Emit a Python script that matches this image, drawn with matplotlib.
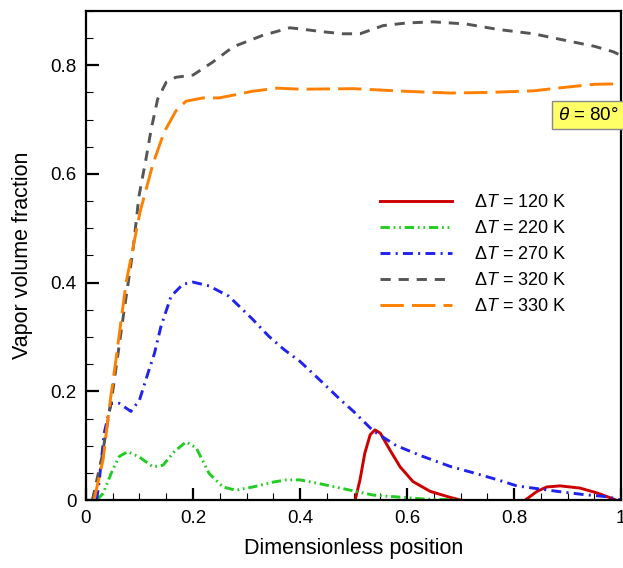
import numpy as np
import matplotlib
matplotlib.use("Agg")
import matplotlib.pyplot as plt
from matplotlib.ticker import MultipleLocator

plt.rcParams['font.family'] = ['Liberation Sans', 'DejaVu Sans']
plt.rcParams['mathtext.fontset'] = 'custom'
plt.rcParams['mathtext.rm'] = 'Liberation Sans'
plt.rcParams['mathtext.it'] = 'Liberation Sans:italic'

# dT = 120 K (zero stretches left out, they sit on the axis)
x_120 = [0.503, 0.512, 0.521, 0.531, 0.540, 0.550, 0.568, 0.587, 0.611, 0.643, 0.680, 0.700,
         np.nan,
         0.821, 0.843, 0.861, 0.886, 0.923, 0.955, 0.980, 0.990]
y_120 = [0.0, 0.037, 0.086, 0.120, 0.129, 0.123, 0.092, 0.061, 0.034, 0.016, 0.005, 0.0,
         np.nan,
         0.0, 0.016, 0.024, 0.026, 0.022, 0.013, 0.004, 0.0]

# dT = 220 K
x_220 = [0.020, 0.032, 0.047, 0.062, 0.078, 0.100, 0.125, 0.144, 0.165, 0.187, 0.206, 0.230,
         0.256, 0.280, 0.312, 0.350, 0.374, 0.400, 0.437, 0.475, 0.537, 0.630, 0.700]
y_220 = [0.0, 0.012, 0.049, 0.080, 0.089, 0.079, 0.061, 0.064, 0.089, 0.107, 0.096, 0.049,
         0.024, 0.018, 0.024, 0.033, 0.037, 0.037, 0.030, 0.022, 0.009, 0.002, 0.0]

# dT = 270 K
x_270 = [0.020, 0.025, 0.034, 0.047, 0.062, 0.084, 0.100, 0.116, 0.128, 0.140, 0.159, 0.181,
         0.200, 0.230, 0.267, 0.312, 0.342, 0.370, 0.400, 0.440, 0.475, 0.500, 0.537, 0.580,
         0.630, 0.680, 0.724, 0.770, 0.805, 0.850, 0.880, 0.930, 0.974, 1.000]
y_270 = [0.0, 0.037, 0.123, 0.178, 0.178, 0.163, 0.184, 0.234, 0.270, 0.319, 0.375, 0.397,
         0.401, 0.394, 0.375, 0.332, 0.301, 0.277, 0.255, 0.218, 0.185, 0.163, 0.127, 0.100,
         0.080, 0.062, 0.050, 0.037, 0.026, 0.020, 0.016, 0.010, 0.006, 0.0]

# dT = 320 K
x_320 = [0.012, 0.030, 0.050, 0.070, 0.088, 0.099, 0.112, 0.122, 0.134, 0.150, 0.168, 0.200,
         0.237, 0.275, 0.330, 0.381, 0.400, 0.440, 0.480, 0.512, 0.555, 0.600, 0.649, 0.710,
         0.770, 0.836, 0.900, 0.950, 0.985, 1.000]
y_320 = [0.0, 0.080, 0.200, 0.340, 0.461, 0.559, 0.627, 0.683, 0.738, 0.769, 0.778, 0.782,
         0.806, 0.834, 0.855, 0.869, 0.867, 0.862, 0.858, 0.858, 0.873, 0.878, 0.880, 0.876,
         0.866, 0.858, 0.845, 0.835, 0.825, 0.818]

# dT = 330 K
x_330 = [0.015, 0.032, 0.043, 0.056, 0.075, 0.101, 0.125, 0.146, 0.168, 0.187, 0.219, 0.249,
         0.275, 0.310, 0.357, 0.400, 0.500, 0.600, 0.680, 0.750, 0.836, 0.900, 0.950, 1.000]
y_330 = [0.0, 0.074, 0.166, 0.258, 0.400, 0.530, 0.618, 0.677, 0.716, 0.734, 0.740, 0.740,
         0.745, 0.752, 0.758, 0.756, 0.757, 0.752, 0.749, 0.750, 0.753, 0.760, 0.765, 0.766]

labels = [r'$\Delta T$ = 120 K', r'$\Delta T$ = 220 K', r'$\Delta T$ = 270 K',
          r'$\Delta T$ = 320 K', r'$\Delta T$ = 330 K']

fig = plt.figure(figsize=(6.23, 5.68), dpi=100)
ax = fig.add_axes([0.138, 0.1197, 0.859, 0.861])

lw = 2.1
ax.plot(x_120, y_120, color='#cc0000', lw=lw, ls='-', label=labels[0])
ax.plot(x_220, y_220, color='#22cc22', lw=lw, ls=(0, (3.2, 1.3, 0.6, 1.3, 0.6, 1.3)), label=labels[1])
ax.plot(x_270, y_270, color='#2222ee', lw=lw, ls=(0, (3.4, 1.8, 0.7, 1.8)), label=labels[2])
ax.plot(x_320, y_320, color='#555555', lw=lw, ls=(0, (3.5, 2.7)), label=labels[3])
ax.plot(x_330, y_330, color='#ff8000', lw=lw, ls=(0, (8, 2.8)), label=labels[4])

ax.set_xlim(0, 1)
ax.set_ylim(0, 0.9)
ax.xaxis.set_major_locator(MultipleLocator(0.2))
ax.xaxis.set_minor_locator(MultipleLocator(0.05))
ax.yaxis.set_major_locator(MultipleLocator(0.2))
ax.yaxis.set_minor_locator(MultipleLocator(0.05))
ax.set_xticks([0, 0.2, 0.4, 0.6, 0.8, 1.0], ['0', '0.2', '0.4', '0.6', '0.8', '1'])
ax.set_yticks([0, 0.2, 0.4, 0.6, 0.8], ['0', '0.2', '0.4', '0.6', '0.8'])
ax.tick_params(which='major', direction='in', length=9, width=1.6, labelsize=13.5, pad=7)
ax.tick_params(which='minor', direction='in', length=5, width=0.8)
for s in ax.spines.values():
    s.set_linewidth(1.6)

ax.set_xlabel('Dimensionless position', fontsize=15.5, labelpad=8)
ax.set_ylabel('Vapor volume fraction', fontsize=15.5, labelpad=12)

ax.legend(loc='upper left', bbox_to_anchor=(0.535, 0.64), frameon=False, fontsize=13,
          handlelength=4.0, handletextpad=1.25, labelspacing=0.5, borderaxespad=0)

ax.text(0.882, 0.708, r'$\theta$ = 80°', fontsize=13.5, ha='left', va='center',
        transform=ax.transData, clip_on=False,
        bbox=dict(boxstyle='square,pad=0.3', facecolor='#ffff66', edgecolor='#888888', lw=1))

fig.savefig('out.png', dpi=100)
